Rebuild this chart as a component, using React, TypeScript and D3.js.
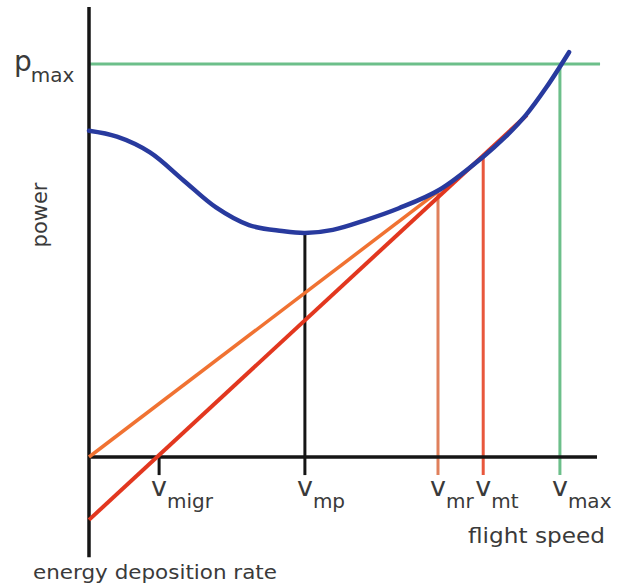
import * as d3 from "d3";
import { useEffect, useRef } from "react";

// power curve (blue)
const speed = [0, 0.55, 1.2, 1.85, 2.5, 3.15, 3.8, 4.25, 4.8, 5.45, 6.1, 6.9, 7.75, 8.2, 8.6, 9.0, 9.45];
const power = [8.3, 8.15, 7.75, 7.05, 6.35, 5.9, 5.75, 5.7, 5.78, 6.03, 6.33, 6.8, 7.63, 8.15, 8.7, 9.4, 10.3];

// tangent lines: [speed, power] ends
const orangeLine = [[0, 0], [6.87, 6.75]];
const redLine = [[0, -1.6], [8.62, 8.7]];

const pMax = 10;

// markers on the speed axis
const markerNames = ["migr", "mp", "mr", "mt", "max"];
const markerSpeeds = [1.38, 4.25, 6.87, 7.76, 9.27];
const markerTops = [0, 5.7, 6.75, 7.65, 10];
const markerColors = ["#151515", "#151515", "#e0805c", "#e8573c", "#6cbf8a"];

const App = () => {
  const ref = useRef(null);

  useEffect(() => {
    const svg = d3.select(ref.current);
    svg.selectAll("*").remove();

    const x = d3.scaleLinear().domain([0, 10]).range([89, 597]);
    const y = d3.scaleLinear().domain([0, 10]).range([457, 64]);

    const font = "'DejaVu Sans', sans-serif";
    const textColor = "#3a3a3a";

    // p_max line
    svg.append("line")
      .attr("x1", x(0)).attr("x2", x(10.06))
      .attr("y1", y(pMax)).attr("y2", y(pMax))
      .attr("stroke", "#6cbf8a").attr("stroke-width", 3);

    // vertical markers
    markerSpeeds.forEach((s, i) => {
      svg.append("line")
        .attr("x1", x(s)).attr("x2", x(s))
        .attr("y1", y(markerTops[i])).attr("y2", y(-0.46))
        .attr("stroke", markerColors[i]).attr("stroke-width", 3);
    });

    // axes
    svg.append("line")
      .attr("x1", x(0)).attr("x2", x(0))
      .attr("y1", y(11.45)).attr("y2", y(-2.55))
      .attr("stroke", "#151515").attr("stroke-width", 3.5);
    svg.append("line")
      .attr("x1", x(0)).attr("x2", x(10))
      .attr("y1", y(0)).attr("y2", y(0))
      .attr("stroke", "#151515").attr("stroke-width", 3.5);

    const seg = d3.line().x((d) => x(d[0])).y((d) => y(d[1]));

    svg.append("path")
      .attr("d", seg(orangeLine))
      .attr("fill", "none").attr("stroke", "#f07232").attr("stroke-width", 3.5);
    svg.append("path")
      .attr("d", seg(redLine))
      .attr("fill", "none").attr("stroke", "#e2371f").attr("stroke-width", 4);

    const curve = d3.line()
      .x((d) => x(d[0]))
      .y((d) => y(d[1]))
      .curve(d3.curveCatmullRom.alpha(0.5));
    svg.append("path")
      .attr("d", curve(speed.map((s, i) => [s, power[i]])))
      .attr("fill", "none")
      .attr("stroke", "#283a9e")
      .attr("stroke-width", 4.5)
      .attr("stroke-linecap", "round");

    // marker labels: v + subscript
    markerSpeeds.forEach((s, i) => {
      const t = svg.append("text")
        .attr("x", x(s) - 8)
        .attr("y", 496)
        .attr("font-family", font)
        .attr("fill", textColor);
      t.append("tspan").attr("font-size", 27).text("v");
      t.append("tspan").attr("font-size", 20).attr("dy", 12).text(markerNames[i]);
    });

    // p_max label
    const pl = svg.append("text")
      .attr("x", 14).attr("y", 71)
      .attr("font-family", font)
      .attr("fill", textColor);
    pl.append("tspan").attr("font-size", 28).text("p");
    pl.append("tspan").attr("font-size", 20).attr("dy", 11).attr("dx", -1).text("max");

    svg.append("text")
      .attr("transform", "translate(47,215) rotate(-90)")
      .attr("text-anchor", "middle")
      .attr("font-family", font)
      .attr("font-size", 21)
      .attr("fill", textColor)
      .text("power");

    svg.append("text")
      .attr("x", 468).attr("y", 543)
      .attr("font-family", font)
      .attr("font-size", 22)
      .attr("textLength", 137)
      .attr("lengthAdjust", "spacingAndGlyphs")
      .attr("fill", textColor)
      .text("flight speed");

    svg.append("text")
      .attr("x", 33).attr("y", 579)
      .attr("font-family", font)
      .attr("font-size", 19)
      .attr("textLength", 244)
      .attr("lengthAdjust", "spacingAndGlyphs")
      .attr("fill", textColor)
      .text("energy deposition rate");
  }, []);

  return (
    <svg
      ref={ref}
      width={619}
      height={587}
      style={{ position: "absolute", left: 0, top: 0, background: "#fff" }}
    />
  );
};

export default App;
